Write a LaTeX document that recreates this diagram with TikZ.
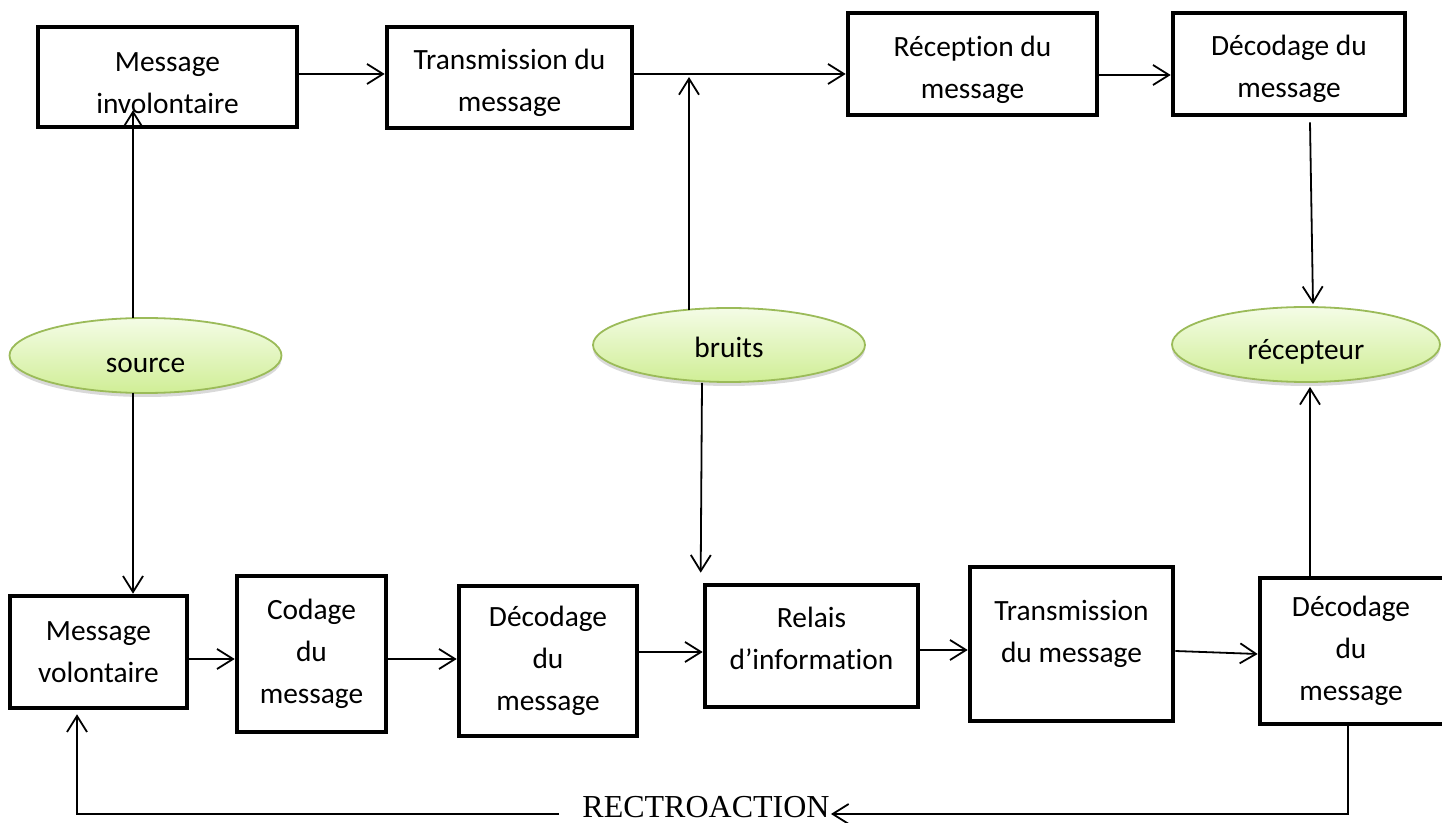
\documentclass[tikz,border=0pt]{standalone}
\usepackage{fontspec}
\setmainfont[Ligatures=NoCommon]{Carlito}
\newfontfamily\timesf{Liberation Serif}
\usetikzlibrary{arrows.meta,shapes.geometric,shadows,calc}
\definecolor{ovtop}{RGB}{244,252,230}
\definecolor{ovbot}{RGB}{208,238,150}
\definecolor{ovline}{RGB}{155,187,89}
\begin{document}
\begin{tikzpicture}[x=0.5pt,y=-0.5pt,
  box/.style={draw=black,line width=2.3pt,fill=white,inner sep=0pt},
  txt/.style={align=center,inner sep=0pt,font=\fontsize{14.7}{21}\selectfont},
  oval/.style={ellipse,draw=ovline,line width=0.9pt,top color=ovtop,bottom color=ovbot,
    drop shadow={shadow xshift=0pt,shadow yshift=-2pt,opacity=0.25,fill=black!60},
    inner sep=0pt,text depth=0pt,font=\fontsize{14.7}{18}\selectfont},
  arr/.style={line width=0.9pt,-{Straight Barb[length=8pt,width=10pt,line width=0.9pt]}}]
\useasboundingbox (0,0) rectangle (1442,823);

% top row
\node[box,minimum width=129.5pt,minimum height=50pt] (t1) at (167.5,77) {};
\node[box,minimum width=122.5pt,minimum height=50.5pt] (t2) at (509.5,77.5) {};
\node[box,minimum width=124.5pt,minimum height=51pt] (t3) at (972.5,64) {};
\node[box,minimum width=116pt,minimum height=51pt] (t4) at (1289,64) {};
\node[txt] (t1l) at ($(t1)+(0,6)$) {Message\\involontaire};
\node[txt] (t2l) at ($(t2)+(0,5)$) {Transmission du\\message};
\node[txt] (t3l) at ($(t3)+(0,6)$) {Réception du\\message};
\node[txt] (t4l) at ($(t4)+(0,5)$) {Décodage du\\message};

% ellipses
\node[oval,minimum width=136pt,minimum height=37.5pt,text height=16.8pt] (src) at (145.5,355.5) {source};
\node[oval,minimum width=136pt,minimum height=37pt,text height=12.8pt] (bru) at (729,345) {bruits};
\node[oval,minimum width=134pt,minimum height=37.5pt,text height=14.8pt] (rec) at (1306,344.5) {récepteur};

% bottom row
\node[box,minimum width=88.5pt,minimum height=56pt] (m1) at (98.5,652) {};
\node[box,minimum width=74.5pt,minimum height=78pt] (m2) at (311.5,654) {};
\node[box,minimum width=89pt,minimum height=75pt] (m3) at (548,661) {};
\node[box,minimum width=106.5pt,minimum height=61pt] (m4) at (811.5,646) {};
\node[box,minimum width=101.5pt,minimum height=77pt] (m5) at (1071.5,644) {};
\node[box,minimum width=94pt,minimum height=73pt] (m6) at (1354,651) {};
\node[txt] (m1l) at (m1) {Message\\volontaire};
\node[txt] (m2l) at (m2) {Codage\\du\\message};
\node[txt] (m3l) at (m3) {Décodage\\du\\message};
\node[txt] (m4l) at ($(m4)+(0,-8)$) {Relais\\d’information};
\node[txt] (m5l) at ($(m5)+(0,-10)$) {Transmission\\du message};
\node[txt] (m6l) at ($(m6)+(-3,0)$) {Décodage\\du\\message};

\node[font=\timesf\fontsize{16}{18}\selectfont,inner sep=0pt] (rt) at (706,807) {RECTROACTION};

% helper coordinates
\coordinate (y74) at (0,74);
\coordinate (y75) at (0,75);
\coordinate (y77) at (0,77);
\coordinate (y659) at (0,659);
\coordinate (y652) at (0,652);
\coordinate (y650) at (0,650);
\coordinate (y651) at (0,651);
\coordinate (y654) at (0,654);
\coordinate (yf) at (0,814);
\coordinate (sx) at (133,0);
\coordinate (bx) at (689,0);
\coordinate (rx) at (1310,0);
\coordinate (fx) at (1348,0);
\coordinate (lx) at (77,0);

% top connectors
\draw[arr] (t1.east |- y74) -- (t2.west |- y74);
\draw[arr] (t2.east |- y74) -- (t3.west |- y74);
\draw[arr] (t3.east |- y75) -- (t4.west |- y75);

% source
\draw[arr] ($(src.north -| sx)+(0,1)$) -- ($(t1.south -| sx)+(0,-19)$);
\draw[arr] ($(src.south -| sx)+(0,-1)$) -- (m1.north -| sx);

% bruits
\draw[arr] ($(bru.north -| bx)+(0,3)$) -- (bx |- y77);
\draw[arr] ($(bru.south)+(-27,0)$) -- ($(m4.north west)+(-2,-10)$);

% recepteur
\draw[arr] ($(t4.south)+(21,5)$) -- ($(rec.north)+(7,-2)$);
\draw[arr] (m6.north -| rx) -- ($(rec.south -| rx)+(0,4)$);

% bottom chain
\draw[arr] (m1.east |- y659) -- (m2.west |- y659);
\draw[arr] (m2.east |- y659) -- (m3.west |- y659);
\draw[arr] (m3.east |- y652) -- (m4.west |- y652);
\draw[arr] (m4.east |- y650) -- (m5.west |- y650);
\draw[arr] (m5.east |- y651) -- (m6.west |- y654);

% feedback
\draw[arr] (m6.south -| fx) -- (fx |- yf) -- ($(rt.east |- yf)+(1,0)$);
\draw[arr] ($(rt.west |- yf)+(-23,0)$) -- (lx |- yf) -- ($(m1.south -| lx)+(0,4)$);
\end{tikzpicture}
\end{document}
